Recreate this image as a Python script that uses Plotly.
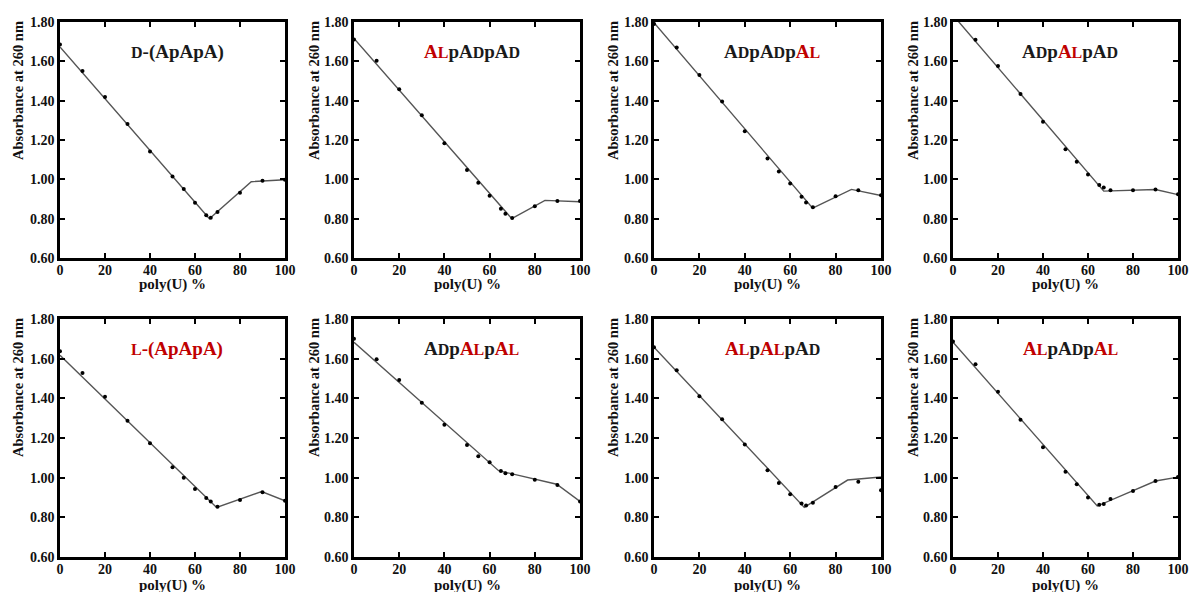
import plotly.graph_objects as go

W, H = 1189, 592

# ---------------- data ----------------
poly_u_pct = [0, 10, 20, 30, 40, 50, 55, 60, 65, 67, 70, 80, 90, 100]

abs_d_apapa = [1.685, 1.551, 1.419, 1.281, 1.142, 1.015, 0.951, 0.881, 0.817, 0.805, 0.834, 0.932, 0.993, 0.998]
abs_al_ad_ad = [1.711, 1.603, 1.458, 1.326, 1.184, 1.048, 0.983, 0.917, 0.851, 0.825, 0.803, 0.863, 0.890, 0.890]
abs_ad_ad_al = [1.790, 1.670, 1.530, 1.396, 1.244, 1.106, 1.040, 0.979, 0.912, 0.882, 0.858, 0.914, 0.945, 0.919]
abs_ad_al_ad = [None, 1.710, 1.576, 1.434, 1.293, 1.153, 1.090, 1.024, 0.971, 0.958, 0.944, 0.944, 0.948, 0.924]
abs_l_apapa = [1.638, 1.528, 1.408, 1.287, 1.173, 1.053, 1.000, 0.943, 0.897, 0.880, 0.853, 0.888, 0.927, 0.883]
abs_ad_al_al = [1.700, 1.597, 1.493, 1.378, 1.267, 1.165, 1.108, 1.078, 1.033, 1.022, 1.017, 0.990, 0.963, 0.880]
abs_al_al_ad = [1.658, 1.542, 1.410, 1.295, 1.167, 1.037, 0.973, 0.917, 0.870, 0.860, 0.873, 0.953, 0.980, 0.937]
abs_al_ad_al = [1.687, 1.572, 1.433, 1.292, 1.153, 1.030, 0.967, 0.900, 0.863, 0.867, 0.892, 0.933, 0.983, 1.003]

# fitted (piecewise linear) lines: break-point x and y
fit_x_d_apapa = [0, 66.4, 85, 100];   fit_y_d_apapa = [1.673, 0.800, 0.988, 0.998]
fit_x_al_ad_ad = [0, 69.8, 84.5, 100]; fit_y_al_ad_ad = [1.716, 0.800, 0.893, 0.886]
fit_x_ad_ad_al = [0, 69.9, 87, 100];   fit_y_ad_ad_al = [1.797, 0.853, 0.949, 0.918]
fit_x_ad_al_ad = [0, 67, 90, 100];     fit_y_ad_al_ad = [1.835, 0.940, 0.948, 0.922]
fit_x_l_apapa = [0, 69.6, 89.6, 100];  fit_y_l_apapa = [1.617, 0.850, 0.930, 0.883]
fit_x_ad_al_al = [0, 64, 89.7, 100];   fit_y_ad_al_al = [1.683, 1.035, 0.967, 0.880]
fit_x_al_al_ad = [0, 66.2, 85.3, 100]; fit_y_al_al_ad = [1.658, 0.850, 0.988, 1.003]
fit_x_al_ad_al = [0, 64.1, 90, 100];   fit_y_al_ad_al = [1.683, 0.857, 0.983, 1.003]

x_ticks = [0, 20, 40, 60, 80, 100]
y_ticks = [0.60, 0.80, 1.00, 1.20, 1.40, 1.60, 1.80]

# ---------------- titles ----------------
RED = "#c00000"
BLK = "#1a1a1a"
SC = 16  # small-cap size


def sc(letter, color):
    return f"<span style='font-size:{SC}px;color:{color}'>{letter}</span>"


def A(color):
    return f"<span style='color:{color}'>A</span>"


def AD():
    return A(BLK) + sc("D", BLK)


def AL():
    return A(RED) + sc("L", RED)


def p():
    return f"<span style='color:{BLK}'>p</span>"


titles = [
    sc("D", BLK) + f"<span style='color:{BLK}'>-(ApApA)</span>",
    AL() + p() + AD() + p() + AD(),
    AD() + p() + AD() + p() + AL(),
    AD() + p() + AL() + p() + AD(),
    sc("L", RED) + f"<span style='color:{RED}'>-(ApApA)</span>",
    AD() + p() + AL() + p() + AL(),
    AL() + p() + AL() + p() + AD(),
    AL() + p() + AD() + p() + AL(),
]

panels = [
    (abs_d_apapa, fit_x_d_apapa, fit_y_d_apapa),
    (abs_al_ad_ad, fit_x_al_ad_ad, fit_y_al_ad_ad),
    (abs_ad_ad_al, fit_x_ad_ad_al, fit_y_ad_ad_al),
    (abs_ad_al_ad, fit_x_ad_al_ad, fit_y_ad_al_ad),
    (abs_l_apapa, fit_x_l_apapa, fit_y_l_apapa),
    (abs_ad_al_al, fit_x_ad_al_al, fit_y_ad_al_al),
    (abs_al_al_ad, fit_x_al_al_ad, fit_y_al_al_ad),
    (abs_al_ad_al, fit_x_al_ad_al, fit_y_al_ad_al),
]

# ---------------- layout geometry (pixels) ----------------
col_x = [(60, 285), (354, 580), (654, 881), (953, 1178)]
row_y = [(22, 258), (319, 557)]
ytitle_x = [18, 314, 613, 913]
ytitle_y = [91, 388]
xtitle_y = [284, 585]

FONT = "Liberation Serif"

fig = go.Figure()
annotations = []
layout = {}

for i, (ys, fx, fy) in enumerate(panels):
    r, c = divmod(i, 4)
    n = "" if i == 0 else str(i + 1)
    xa, ya = "x" + n, "y" + n
    x0, x1 = col_x[c]
    y0, y1 = row_y[r]

    fig.add_trace(go.Scatter(x=fx, y=fy, mode="lines",
                             line=dict(color="#555555", width=1.4),
                             xaxis=xa, yaxis=ya, showlegend=False, hoverinfo="skip"))
    fig.add_trace(go.Scatter(x=poly_u_pct, y=ys, mode="markers",
                             marker=dict(color="black", size=4),
                             xaxis=xa, yaxis=ya, showlegend=False))

    axis_common = dict(showline=True, linecolor="black", linewidth=2.5, mirror="ticks",
                       ticks="inside", ticklen=5, tickwidth=2, tickcolor="black",
                       showgrid=False, zeroline=False, automargin=False,
                       ticklabeloverflow="allow",
                       tickfont=dict(family=FONT, size=14, color="#111111", weight="bold"))
    layout["xaxis" + n] = dict(axis_common, domain=[x0 / W, x1 / W], range=[0, 100],
                               tickvals=x_ticks, anchor=ya, ticklabelstandoff=-3)
    layout["yaxis" + n] = dict(axis_common, domain=[1 - y1 / H, 1 - y0 / H], range=[0.6, 1.8],
                               tickvals=y_ticks, tickformat=".2f", anchor=xa)

    annotations.append(dict(x=52, y=1.65, xref=xa, yref=ya, text="<b>" + titles[i] + "</b>",
                            showarrow=False, font=dict(family=FONT, size=19, color=BLK),
                            xanchor="center", yanchor="middle"))
    annotations.append(dict(x=ytitle_x[c] / W, y=1 - ytitle_y[r] / H, xref="paper", yref="paper",
                            text="<b>Absorbance at 260 nm</b>", textangle=-90, showarrow=False,
                            font=dict(family=FONT, size=14.5, color="#111111"),
                            xanchor="center", yanchor="middle"))
    annotations.append(dict(x=(x0 + x1) / 2 / W, y=1 - xtitle_y[r] / H, xref="paper", yref="paper",
                            text="<b>poly(U) %</b>", showarrow=False,
                            font=dict(family=FONT, size=15, color="#111111"),
                            xanchor="center", yanchor="middle"))

fig.update_layout(width=W, height=H, margin=dict(l=0, r=0, t=0, b=0),
                  paper_bgcolor="white", plot_bgcolor="white",
                  annotations=annotations, **layout)

fig.write_html("out.html", config={"displayModeBar": False},
               post_script="document.body.style.margin='0';document.body.style.overflow='hidden';")
